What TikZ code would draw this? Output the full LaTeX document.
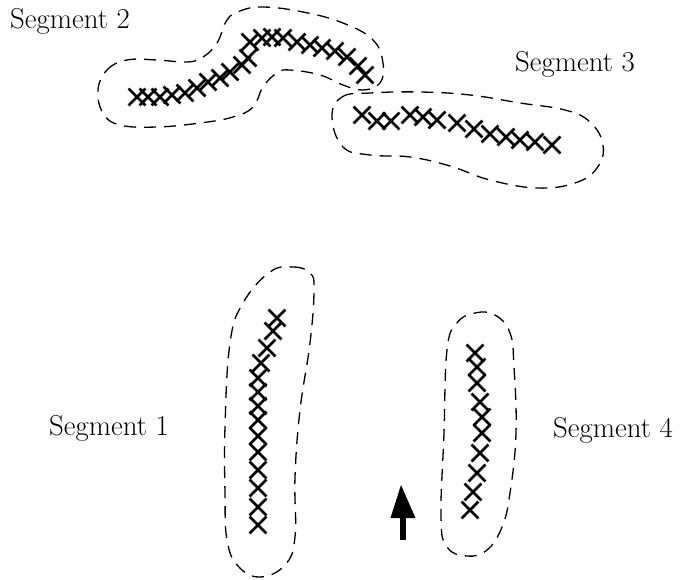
\documentclass[tikz,border=0pt]{standalone}
\usetikzlibrary{shapes.misc}

\begin{document}
\begin{tikzpicture}[
  x=1pt, y=-1pt,
  lbl/.style={font=\fontsize{28.8}{34}\selectfont, anchor=base west, inner sep=0pt},
  hit/.style={draw, cross out, minimum size=14pt, inner sep=0pt, line width=2.8pt},
  hull/.style={draw, line width=1.3pt, dash pattern=on 12pt off 8pt},
]
\useasboundingbox (0,0) rectangle (686,580);

% ---------------- labels ----------------
\node[lbl] (lab2) at ( 10, 29) {Segment 2};
\node[lbl] (lab3) at (515, 72) {Segment 3};
\node[lbl] (lab1) at ( 49,435) {Segment 1};
\node[lbl] (lab4) at (553,437) {Segment 4};

% ---------------- segment 2 ----------------
\draw[hull] plot[smooth cycle, tension=0.7] coordinates {
  (98,90) (107,70) (127,60) (157,60) (187,62) (203,57) (217,43) (227,20)
  (240,11) (263,7) (303,12) (343,23) (373,40) (383,63) (380,83) (363,90)
  (343,85) (320,75) (290,70) (277,73) (263,87) (253,107) (233,117)
  (200,123) (157,127) (120,125) (103,113)};
\foreach \p in {(137,97),(148,97),(160,97),(172,95),(185,93),(197,88),
                (208,82),(220,78),(230,72),(242,65),(248,58),
                (250,42),(262,38),(272,37),(283,38),(297,42),(310,45),
                (322,48),(335,51),(347,57),(358,66),(365,75)}
  \node[hit] at \p {};

% ---------------- segment 3 ----------------
\draw[hull] plot[smooth cycle, tension=0.7] coordinates {
  (332,117) (342,97) (370,93) (420,92) (470,95) (520,103) (565,110)
  (590,122) (603,145) (597,168) (575,183) (537,188) (490,180) (450,166)
  (410,157) (370,155) (343,147)};
\foreach \p in {(362,115),(377,121),(391,121),(410,115),(423,117),(437,120),
                (457,123),(474,129),(490,134),(506,137),(520,140),
                (535,142),(552,145)}
  \node[hit] at \p {};

% ---------------- segment 1 ----------------
\draw[hull] plot[smooth cycle, tension=0.7] coordinates {
  (270,272) (293,267) (310,273) (314,290) (310,343) (300,410) (295,477)
  (295,537) (285,565) (260,577) (238,566) (227,540) (225,493) (225,427)
  (230,343) (243,303)};
\foreach \p in {(277,318),(273,331),(267,348),(261,363),(258,378),(258,392),
                (258,406),(258,420),(258,436),(258,452),(258,470),
                (258,488),(258,507),(258,525)}
  \node[hit] at \p {};

% ---------------- segment 4 ----------------
\draw[hull] plot[smooth cycle, tension=0.7] coordinates {
  (457,323) (475,313) (495,315) (510,333) (514,367) (516,433) (510,493)
  (502,527) (487,550) (467,556) (447,547) (441,517) (444,433) (447,350)};
\foreach \p in {(475,353),(477,367),(477,383),(480,402),(482,417),(482,433),
                (480,453),(477,473),(473,492),(470,510)}
  \node[hit] at \p {};

% ---------------- heading arrow ----------------
\coordinate (tail) at (403,540);
\coordinate (base) at (403,518);
\coordinate (tip)  at (401,485);
\fill (tail) ++(-3,0) rectangle ([xshift=3pt]base);
\fill ([xshift=-12.5pt]base) -- (tip) -- ([xshift=12.5pt]base) -- cycle;

\end{tikzpicture}
\end{document}
